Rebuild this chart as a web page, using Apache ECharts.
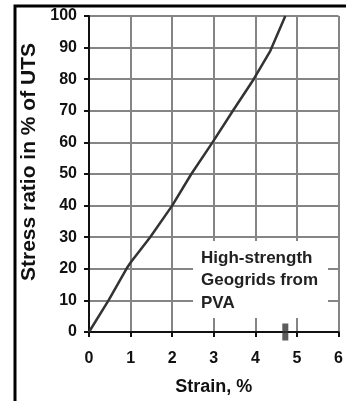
<!DOCTYPE html>
<html><head><meta charset="utf-8">
<script src="https://cdn.jsdelivr.net/npm/echarts@6/dist/echarts.min.js"></script>
<style>html,body{margin:0;padding:0;background:#fff}#c{width:346px;height:401px}</style>
</head><body><div id="c"></div>
<script>
var strain = [0, 0.47, 0.9, 1.0, 1.47, 2.0, 2.46, 2.97, 3.46, 3.96, 4.36, 4.72];
var stressRatio = [0, 10, 20, 22, 30, 40, 50, 60, 70, 80, 89, 100];
var failureMark = [[4.72, 0]];
var xTicks = {min: 0, max: 6, interval: 1};
var yTicks = {min: 0, max: 100, interval: 10};
var labelLines = ['High-strength', 'Geogrids from', 'PVA'];

var chart = echarts.init(document.getElementById('c'), null, {renderer: 'canvas'});
var font = 'Liberation Sans, Arial, sans-serif';
chart.setOption({
  animation: false,
  grid: {left: 89, top: 16, right: 2, bottom: 66},
  xAxis: {
    type: 'value', min: xTicks.min, max: xTicks.max, interval: xTicks.interval,
    name: 'Strain, %', nameLocation: 'middle', nameGap: 46,
    nameTextStyle: {fontFamily: font, fontWeight: 'bold', fontSize: 18, color: '#111'},
    axisLine: {show: true, onZero: false, lineStyle: {color: '#111', width: 2}},
    axisTick: {show: true, length: 5, lineStyle: {color: '#111', width: 2}},
    axisLabel: {fontFamily: font, fontWeight: 'bold', fontSize: 16, color: '#111', margin: 19},
    splitLine: {show: true, lineStyle: {color: '#858585', width: 2}}
  },
  yAxis: {
    type: 'value', min: yTicks.min, max: yTicks.max, interval: yTicks.interval,
    name: 'Stress ratio in % of UTS', nameLocation: 'middle', nameGap: 48,
    nameTextStyle: {fontFamily: font, fontWeight: 'bold', fontSize: 21, color: '#111', padding: [0, 0, 0, 24]},
    axisLine: {show: true, onZero: false, lineStyle: {color: '#111', width: 2}},
    axisTick: {show: true, length: 5, lineStyle: {color: '#111', width: 2}},
    axisLabel: {fontFamily: font, fontWeight: 'bold', fontSize: 16, color: '#111', margin: 12},
    splitLine: {show: true, lineStyle: {color: '#858585', width: 2}}
  },
  graphic: [
    {type: 'polyline', z: 100, shape: {points: [[15, 401], [15, 6], [346, 6]]},
     style: {stroke: '#000', lineWidth: 3, fill: null}},
    {type: 'rect', z: 50, shape: {x: 193, y: 241, width: 135, height: 77}, style: {fill: '#fff'}},
    {type: 'text', z: 51, left: 201, top: 247,
     style: {text: labelLines.join('\n'), font: 'bold 17px ' + font, fill: '#222', lineHeight: 22.5}}
  ],
  series: [
    {type: 'line', data: strain.map(function (s, i) { return [s, stressRatio[i]]; }),
     showSymbol: false, symbol: 'none', smooth: false,
     lineStyle: {color: '#333', width: 2.5}, z: 5},
    {type: 'scatter', data: failureMark, symbol: 'rect', symbolSize: [6, 17],
     itemStyle: {color: '#333'}, z: 6}
  ]
});
</script></body></html>
